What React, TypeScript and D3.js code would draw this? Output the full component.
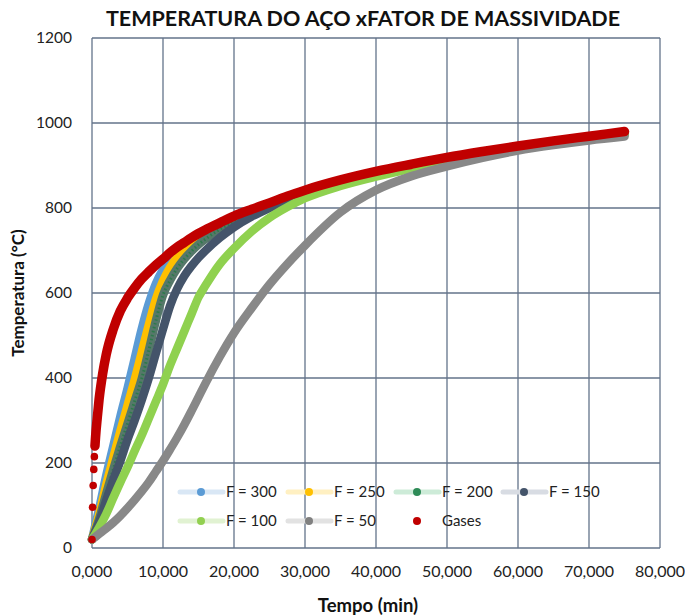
import { useEffect, useRef } from 'react';
import * as d3 from 'd3';

// tempo em minutos (eixo x), temperaturas em °C
const tempo = [0, 1, 2, 3, 4, 5, 6, 7, 8, 9, 10, 11, 12, 13, 14, 15, 16, 18, 20, 22.5, 25, 27.5, 30, 35, 40, 45, 50, 55, 60, 65, 70, 75];
const f300 = [20, 92, 170, 240, 310, 375, 445, 515, 575, 622, 655, 678, 697, 712, 725, 737, 747, 763, 778, 794, 809, 824, 838, 863, 883, 900, 915, 929, 942, 954, 965, 976];
const f250 = [20, 78, 148, 212, 275, 335, 395, 460, 525, 585, 628, 660, 684, 702, 717, 730, 741, 759, 775, 792, 808, 823, 837, 862, 882, 899, 914, 928, 941, 953, 964, 975];
const f200 = [20, 68, 128, 185, 240, 292, 345, 398, 465, 535, 595, 630, 658, 680, 698, 714, 727, 750, 768, 787, 804, 820, 835, 860, 880, 898, 913, 927, 940, 952, 963, 974];
const f150 = [20, 60, 112, 160, 205, 255, 300, 348, 400, 458, 515, 570, 610, 640, 663, 683, 700, 730, 755, 780, 800, 817, 832, 858, 879, 897, 912, 926, 939, 951, 962, 973];
const f100 = [20, 48, 80, 118, 155, 190, 228, 265, 305, 345, 385, 430, 470, 510, 550, 590, 618, 668, 705, 745, 777, 802, 823, 852, 874, 893, 910, 925, 938, 950, 961, 972];
const f50 = [20, 33, 46, 60, 76, 94, 113, 133, 155, 180, 205, 232, 260, 290, 322, 355, 388, 450, 506, 565, 620, 668, 712, 790, 842, 875, 898, 918, 935, 948, 959, 968];

const gasTempo = [0, 0.083, 0.167, 0.25, 0.333, 0.417, 0.5, 0.75, 1, 1.5, 2, 3, 4, 5, 6, 7, 8, 9, 10, 11, 12, 13, 14, 15, 16, 18, 20, 22.5, 25, 27.5, 30, 35, 40, 45, 50, 55, 60, 65, 70, 75];
const gases = [20, 96, 147, 185, 215, 240, 261, 308, 350, 410, 455, 515, 558, 588, 612, 633, 650, 666, 680, 695, 708, 719, 730, 740, 749, 765, 781, 797, 812, 828, 842, 866, 886, 903, 919, 933, 946, 958, 969, 980];

const xTicks = [0, 10, 20, 30, 40, 50, 60, 70, 80];
const yTicks = [0, 200, 400, 600, 800, 1000, 1200];

const seriesNames = ['F = 300', 'F = 250', 'F = 200', 'F = 150', 'F = 100', 'F = 50'];
const seriesValues = [f300, f250, f200, f150, f100, f50];
const markerColors = ['#5B9BD5', '#FFC000', '#2E8B57', '#44546A', '#92D050', '#808080'];
const bandColors = ['#5B9BD5', '#FFC000', '#56786a', '#44546A', '#8FD14F', '#888888'];
const legendLineColors = ['#d9e7f5', '#fff0c2', '#cdebd8', '#d8dce3', '#e1f2d2', '#e2e2e2'];
const gasColor = '#C00000';

const W = 685;
const H = 616;
const FONT = "Lato, 'Open Sans', sans-serif";

export default function App() {
  const svgRef = useRef<SVGSVGElement | null>(null);

  useEffect(() => {
    document.body.style.margin = '0';
    const svg = d3.select(svgRef.current);
    svg.selectAll('*').remove();

    const x = d3.scaleLinear().domain([0, 80]).range([92, 660]);
    const y = d3.scaleLinear().domain([0, 1200]).range([548, 38]);

    const ptBR = d3.formatLocale({ decimal: ',', thousands: '.', grouping: [3], currency: ['R$', ''] });
    const fmtX = ptBR.format('.3f');

    svg.append('rect').attr('width', W).attr('height', H).attr('fill', '#fff');

    // grade
    const grid = svg.append('g').attr('stroke', '#63738a').attr('stroke-width', 1.3);
    grid.selectAll('line.h').data(yTicks).join('line')
      .attr('x1', x(0)).attr('x2', x(80))
      .attr('y1', d => y(d)).attr('y2', d => y(d));
    grid.selectAll('line.v').data(xTicks).join('line')
      .attr('x1', d => x(d)).attr('x2', d => x(d))
      .attr('y1', y(0)).attr('y2', y(1200));

    // rótulos dos eixos
    svg.append('g').selectAll('text').data(yTicks).join('text')
      .attr('x', 72).attr('y', d => y(d)).attr('dy', '0.35em')
      .attr('text-anchor', 'end').attr('font-family', FONT).attr('font-size', 15.5).attr('fill', '#222')
      .text(d => String(d));
    svg.append('g').selectAll('text').data(xTicks).join('text')
      .attr('x', d => x(d)).attr('y', 577)
      .attr('text-anchor', 'middle').attr('font-family', FONT).attr('font-size', 16).attr('fill', '#222')
      .text(d => fmtX(d));

    // séries de aço
    const line = d3.line<number>()
      .x((_, i) => x(tempo[i]))
      .y(d => y(d))
      .curve(d3.curveMonotoneX);

    seriesValues.forEach((vals, k) => {
      svg.append('path')
        .attr('d', line(vals))
        .attr('fill', 'none')
        .attr('stroke', bandColors[k])
        .attr('stroke-width', 8.5)
        .attr('stroke-linecap', 'round')
        .attr('stroke-linejoin', 'round');
      if (k === 2) {
        svg.append('path')
          .attr('d', line(vals))
          .attr('fill', 'none')
          .attr('stroke', '#2d7a4b')
          .attr('stroke-width', 3)
          .attr('stroke-dasharray', '1.5 2.5');
      }
    });

    // gases
    const gasLine = d3.line<number>()
      .x((_, i) => x(gasTempo[i + 5]))
      .y(d => y(d))
      .curve(d3.curveMonotoneX);
    svg.append('path')
      .attr('d', gasLine(gases.slice(5)))
      .attr('fill', 'none')
      .attr('stroke', gasColor)
      .attr('stroke-width', 9.5)
      .attr('stroke-linecap', 'round')
      .attr('stroke-linejoin', 'round');
    svg.append('g').selectAll('circle').data(gases.slice(0, 6)).join('circle')
      .attr('cx', (_, i) => x(gasTempo[i]))
      .attr('cy', d => y(d))
      .attr('r', 3.8)
      .attr('fill', gasColor);

    // legenda
    const legend = svg.append('g').attr('font-family', FONT).attr('font-size', 15).attr('fill', '#222');
    const cols = [180, 288, 396, 503];
    const rows = [492, 521];
    seriesNames.forEach((name, k) => {
      const lx = cols[k % 4];
      const ly = rows[Math.floor(k / 4)];
      legend.append('line')
        .attr('x1', lx).attr('x2', lx + 43).attr('y1', ly).attr('y2', ly)
        .attr('stroke', legendLineColors[k]).attr('stroke-width', 5).attr('stroke-linecap', 'round');
      legend.append('circle').attr('cx', lx + 21).attr('cy', ly).attr('r', 4).attr('fill', markerColors[k]);
      legend.append('text').attr('x', lx + 46).attr('y', ly).attr('dy', '0.35em').text(name);
    });
    legend.append('circle').attr('cx', cols[2] + 21).attr('cy', rows[1]).attr('r', 4).attr('fill', gasColor);
    legend.append('text').attr('x', cols[2] + 46).attr('y', rows[1]).attr('dy', '0.35em').text('Gases');

    // títulos
    svg.append('text')
      .attr('x', 363).attr('y', 26).attr('text-anchor', 'middle')
      .attr('font-family', FONT).attr('font-weight', 700).attr('font-size', 21.5).attr('fill', '#111')
      .text('TEMPERATURA DO AÇO xFATOR DE MASSIVIDADE');
    svg.append('text')
      .attr('transform', 'translate(24,293) rotate(-90)').attr('text-anchor', 'middle')
      .attr('font-family', FONT).attr('font-weight', 700).attr('font-size', 17).attr('fill', '#111')
      .text('Temperatura (°C)');
    svg.append('text')
      .attr('x', 368).attr('y', 612).attr('text-anchor', 'middle')
      .attr('font-family', FONT).attr('font-weight', 700).attr('font-size', 18.5).attr('fill', '#111')
      .text('Tempo (min)');
  }, []);

  return (
    <div style={{ position: 'absolute', left: 0, top: 0 }}>
      <svg ref={svgRef} width={W} height={H} />
    </div>
  );
}
